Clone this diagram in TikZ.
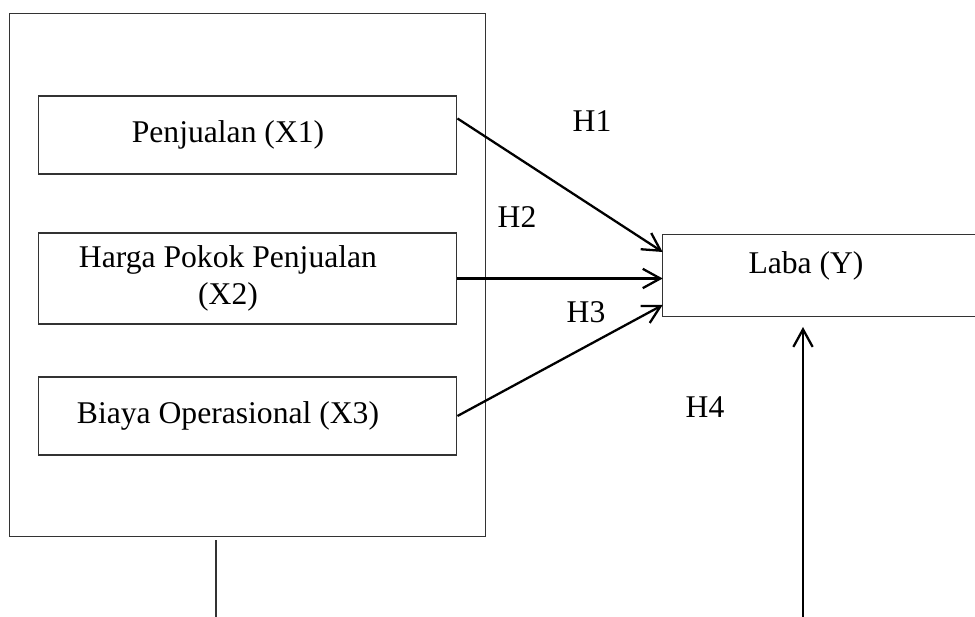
\documentclass[tikz,border=0pt]{standalone}
\usepackage{fontspec}
\setmainfont{Liberation Serif}
\usetikzlibrary{arrows.meta}

\begin{document}
\begin{tikzpicture}[x=0.02cm,y=-0.02cm,
  varbox/.style={draw=black!80,line width=0.6pt,inner sep=0pt},
  txt/.style={font=\fontsize{18}{21}\selectfont,align=center,inner sep=1pt},
  link/.style={line width=1.3pt,-{Straight Barb[length=10pt,width=11pt]}}]
\useasboundingbox (0,0) rectangle (975,617);
\node[varbox,minimum width=9.54cm,minimum height=10.48cm] (vars) at (247.5,275) {};
\node[varbox,minimum width=8.38cm,minimum height=1.56cm,
  label={[txt,xshift=-0.39cm]center:Penjualan (X1)}] (x1) at (247.5,135) {};
\node[varbox,minimum width=8.38cm,minimum height=1.82cm,
  label={[txt,xshift=-0.39cm]center:Harga Pokok Penjualan\\(X2)}] (x2) at (247.5,278.5) {};
\node[varbox,minimum width=8.38cm,minimum height=1.56cm,
  label={[txt,xshift=-0.39cm]center:Biaya Operasional (X3)}] (x3) at (247.5,416) {};
\node[inner sep=0pt,minimum width=6.24cm,minimum height=1.62cm,
  label={[txt,xshift=-0.26cm,yshift=0.19cm]center:Laba (Y)}] (laba) at (819,275.5) {};
\draw[draw=black!80,line width=0.6pt] (laba.north east) -- (laba.north west)
  -- (laba.south west) -- (laba.south east);
\coordinate (lbot) at (216,617);
\coordinate (ybot) at (803,617);
\coordinate (ytop) at (803,327);
\draw[link] ([yshift=0.33cm]x1.east) -- ([yshift=0.47cm]laba.west);
\draw[link] (x2.east) -- (x2.east -| laba.west);
\draw[link] (x3.east) -- ([yshift=-0.59cm]laba.west);
\draw[link] (ybot) -- (ytop);
\draw[draw=black!80,line width=0.6pt] ([yshift=-0.06cm]vars.south -| lbot) -- (lbot);
\node[txt] (h1) at (592,121) {H1};
\node[txt] (h2) at (517,217) {H2};
\node[txt] (h3) at (586,312) {H3};
\node[txt] (h4) at (705,407) {H4};
\end{tikzpicture}
\end{document}
